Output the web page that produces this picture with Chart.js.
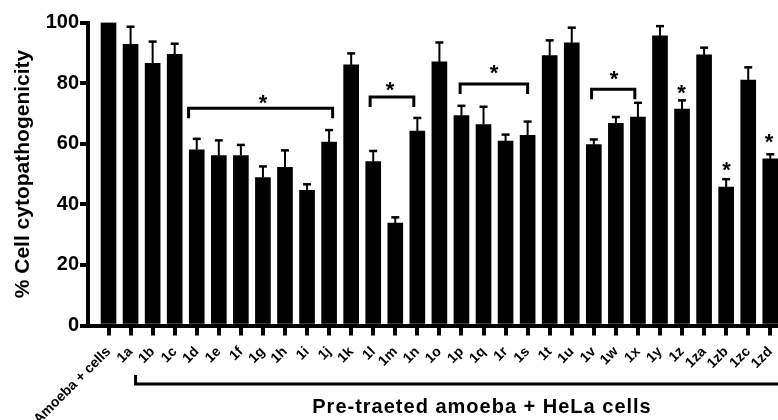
<!DOCTYPE html>
<html>
<head>
<meta charset="utf-8">
<script src="https://cdn.jsdelivr.net/npm/chart.js@4"></script>
<style>
  html, body { margin: 0; padding: 0; background: #fff; overflow: hidden; }
  #wrap { position: relative; width: 778px; height: 420px; }
</style>
</head>
<body>
<div id="wrap"><canvas id="c"></canvas></div>
<script>
// ---- data ----
const categories = ['Amoeba + cells','1a','1b','1c','1d','1e','1f','1g','1h','1i','1j','1k','1l','1m','1n','1o','1p','1q','1r','1s','1t','1u','1v','1w','1x','1y','1z','1za','1zb','1zc','1zd'];
const values = [100, 92.8, 86.5, 89.5, 58.0, 56.1, 56.1, 48.8, 52.2, 44.6, 60.5, 86.0, 54.1, 33.8, 64.2, 87.0, 69.3, 66.3, 60.9, 62.8, 89.1, 93.3, 59.7, 66.7, 68.8, 95.6, 71.4, 89.3, 45.7, 81.0, 55.0];
const errors = [0, 5.8, 7.2, 3.5, 3.6, 5.0, 3.5, 3.7, 5.6, 2.0, 4.0, 3.8, 3.5, 1.9, 4.3, 6.4, 3.2, 5.9, 2.1, 4.5, 5.0, 5.0, 1.7, 2.1, 4.7, 3.2, 2.9, 2.4, 2.6, 4.2, 1.5];
const yTicks = [0, 20, 40, 60, 80, 100];
// significance brackets (x in category index units, y in % units)
const bracketStart = [3.63, 11.86, 15.94, 21.9];
const bracketEnd = [10.16, 13.84, 19.0, 23.86];
const bracketY = [71.7, 75.4, 79.7, 78.0];
const bracketDrop = 3.3;
// asterisks (x in category index units, y in % units)
const starX = [7.0, 12.76, 17.48, 22.92, 25.98, 28.02, 29.94];
const starY = [75.1, 79.7, 85.0, 83.3, 78.7, 53.3, 62.3];
const yTitle = '% Cell cytopathogenicity';
const groupTitle = 'Pre-traeted amoeba + HeLa cells';

const X_MIN = -0.93, X_MAX = 30.35;
const FONT = "'Liberation Sans', Arial, Helvetica, sans-serif";

const annot = {
  id: 'annot',
  afterDatasetsDraw(chart) {
    const ctx = chart.ctx;
    const xs = chart.scales.x, ys = chart.scales.y;
    ctx.save();
    ctx.strokeStyle = '#000';
    ctx.fillStyle = '#000';
    // error bars (upper)
    values.forEach((v, i) => {
      if (!errors[i]) return;
      const x = xs.getPixelForValue(i);
      const y0 = ys.getPixelForValue(v);
      const y1 = ys.getPixelForValue(v + errors[i]);
      ctx.lineWidth = 2;
      ctx.beginPath(); ctx.moveTo(x, y0); ctx.lineTo(x, y1); ctx.stroke();
      ctx.lineWidth = 2.5;
      ctx.beginPath(); ctx.moveTo(x - 4, y1); ctx.lineTo(x + 4, y1); ctx.stroke();
    });
    // brackets
    ctx.lineWidth = 3;
    ctx.lineCap = 'butt';
    bracketY.forEach((by, k) => {
      const xa = xs.getPixelForValue(bracketStart[k]);
      const xb = xs.getPixelForValue(bracketEnd[k]);
      const yl = ys.getPixelForValue(by);
      const yd = ys.getPixelForValue(by - bracketDrop);
      ctx.beginPath();
      ctx.moveTo(xa, yd); ctx.lineTo(xa, yl); ctx.lineTo(xb, yl); ctx.lineTo(xb, yd);
      ctx.stroke();
    });
    // asterisks
    ctx.font = 'bold 22px ' + FONT;
    ctx.textAlign = 'center';
    ctx.textBaseline = 'alphabetic';
    starX.forEach((sx, k) => {
      const x = xs.getPixelForValue(sx);
      const y = ys.getPixelForValue(starY[k]);
      ctx.fillText('*', x, y + 12.5);
    });
    ctx.restore();
  },
  afterDraw(chart) {
    const ctx = chart.ctx;
    const xs = chart.scales.x;
    ctx.save();
    ctx.strokeStyle = '#000';
    ctx.fillStyle = '#000';
    ctx.lineWidth = 3;
    const xa = xs.getPixelForValue(1) + 5;
    ctx.beginPath();
    ctx.moveTo(xa, 375); ctx.lineTo(xa, 384); ctx.lineTo(chart.width, 384);
    ctx.stroke();
    ctx.font = 'bold 20px ' + FONT;
    if ('letterSpacing' in ctx) ctx.letterSpacing = '1px';
    ctx.textAlign = 'center';
    ctx.textBaseline = 'alphabetic';
    ctx.fillText(groupTitle, 482, 413);
    ctx.restore();
  }
};

new Chart(document.getElementById('c'), {
  type: 'bar',
  data: {
    datasets: [{
      data: values.map((v, i) => ({ x: i, y: v })),
      backgroundColor: '#000',
      borderWidth: 0,
      barThickness: 15
    }]
  },
  options: {
    responsive: true,
    maintainAspectRatio: false,
    animation: false,
    events: [],
    layout: { padding: { top: 22.5, left: 0, right: 0, bottom: 0 } },
    plugins: { legend: { display: false }, tooltip: { enabled: false } },
    scales: {
      x: {
        type: 'linear',
        min: X_MIN,
        max: X_MAX,
        bounds: 'data',
        offset: false,
        afterBuildTicks: (s) => { s.ticks = categories.map((_, i) => ({ value: i })); s.min = X_MIN; s.max = X_MAX; },
        afterFit: (s) => { s.height = 94.5; s.paddingLeft = 0; s.paddingRight = 0; },
        grid: { display: true, offset: false, drawOnChartArea: false, drawTicks: true, tickLength: 10, lineWidth: 4, color: '#000' },
        border: { display: true, width: 4, color: '#000' },
        ticks: {
          autoSkip: false,
          includeBounds: false,
          minRotation: 45,
          maxRotation: 45,
          padding: 8,
          color: '#000',
          font: { family: FONT, size: 14, weight: 'bold' },
          callback: (v) => categories[v]
        }
      },
      y: {
        min: 0,
        max: 100,
        afterBuildTicks: (s) => { s.ticks = yTicks.map(v => ({ value: v })); },
        afterFit: (s) => { s.width = 88; s.paddingTop = 0; s.paddingBottom = 0; },
        grid: { display: true, drawOnChartArea: false, drawTicks: true, tickLength: 8, lineWidth: 4, color: '#000' },
        border: { display: true, width: 4, color: '#000' },
        ticks: {
          padding: 1,
          color: '#000',
          font: { family: FONT, size: 20, weight: 'bold' }
        },
        title: {
          display: true,
          text: yTitle,
          color: '#000',
          padding: { top: 11, bottom: 0 },
          font: { family: FONT, size: 21, weight: 'bold' }
        }
      }
    }
  },
  plugins: [annot]
});
</script>
</body>
</html>
